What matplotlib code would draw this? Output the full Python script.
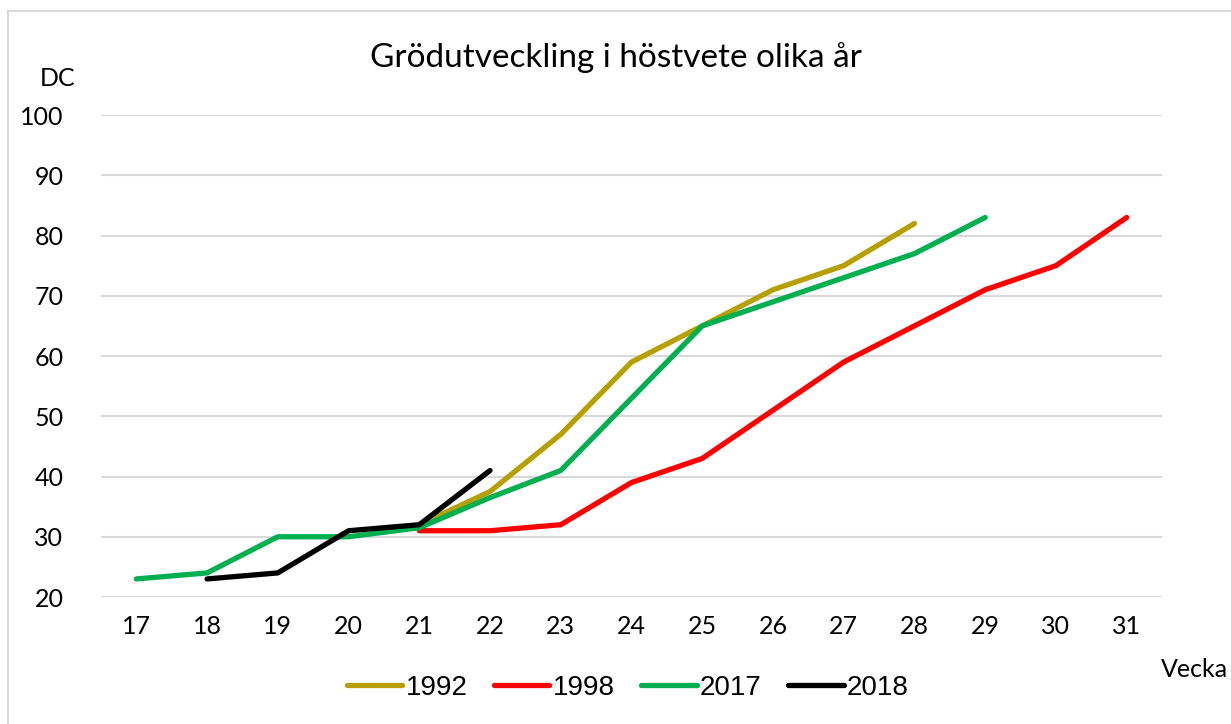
import matplotlib.pyplot as plt
import matplotlib.patches as patches
import numpy as np

weeks = list(range(17, 32))
# values per week (None = no data)
v1992 = [None, None, None, None, 32, 37.5, 47, 59, 65, 71, 75, 82, None, None, None]
v1998 = [None, None, None, None, 31, 31, 32, 39, 43, 51, 59, 65, 71, 75, 83]
v2017 = [23, 24, 30, 30, 31.5, 36.5, 41, 53, 65, 69, 73, 77, 83, None, None]
v2018 = [None, 23, 24, 31, 32, 41, None, None, None, None, None, None, None, None, None]

series = [('1992', v1992, '#b5a000'), ('1998', v1998, '#ff0000'),
          ('2017', v2017, '#00b050'), ('2018', v2018, '#000000')]

plt.rcParams['font.family'] = ['Lato', 'DejaVu Sans']

fig = plt.figure(figsize=(12.31, 7.24), dpi=100)
ax = fig.add_axes([0.082, 0.1754, 0.862, 0.6657])

x = np.arange(len(weeks))
for name, vals, col in series:
    y = np.array([np.nan if v is None else v for v in vals], dtype=float)
    ax.plot(x, y, color=col, lw=3.8, solid_capstyle='round', solid_joinstyle='round', label=name)

ax.set_xlim(-0.5, len(weeks) - 0.5)
ax.set_ylim(20, 100)
ax.set_yticks(range(20, 101, 10))
ax.set_xticks(x)
ax.set_xticklabels([str(w) for w in weeks])
ax.grid(axis='y', color='#d9d9d9', lw=1.5)
ax.set_axisbelow(True)
for s in ax.spines.values():
    s.set_visible(False)
ax.tick_params(length=0, labelsize=18, pad=13)
ax.tick_params(axis='y', pad=27)

fig.text(0.5, 0.921, 'Grödutveckling i höstvete olika år', ha='center', va='center', fontsize=24)
fig.text(0.0465, 0.892, 'DC', ha='center', va='center', fontsize=18)
fig.text(0.97, 0.075, 'Vecka', ha='center', va='center', fontsize=18)

leg = ax.legend(loc='center', bbox_to_anchor=(0.51, 0.05), bbox_transform=fig.transFigure,
                ncol=4, frameon=False, handlelength=2.0, columnspacing=0.95, handletextpad=0.12,
                prop={'family': ['Liberation Sans', 'DejaVu Sans'], 'size': 20})

# chart frame
fig.patches.append(patches.Rectangle((8 / 1231, -0.01), 1.02, 1 - 11 / 724 + 0.01,
                                     transform=fig.transFigure, fill=False,
                                     edgecolor='#d9d9d9', lw=1.5))

fig.savefig('out.png', dpi=100)
